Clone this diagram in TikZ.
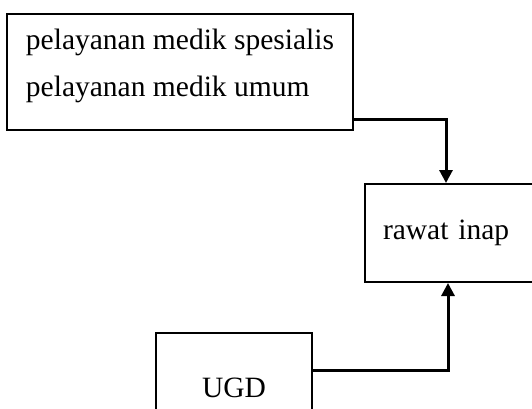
\documentclass[tikz,border=0pt]{standalone}
\usepackage{fontspec}
\setmainfont{Liberation Serif}
\usetikzlibrary{arrows.meta}

\begin{document}
\begin{tikzpicture}[x=1pt, y=1pt,
	box/.style={draw, line width=2pt, inner sep=0pt},
	flow/.style={line width=3pt, -{Triangle[length=13pt, width=13pt]}},
	every node/.style={font=\fontsize{29.5}{47}\selectfont}]
	\useasboundingbox (0,0) rectangle (532,408);
	
	% boxes
	\node[box, minimum width=344pt, minimum height=116pt, align=left,
	inner xsep=19pt, text depth=19pt] (medik) at (180,336)
	{pelayanan medik spesialis\\ pelayanan medik umum};
	\node[box, minimum width=175pt, minimum height=98pt, align=left,
	inner xsep=18pt, text width=139pt] (rawat) at (452.5,175) {rawat inap};
	\node[box, minimum width=156pt, minimum height=110pt] (ugd) at (234,20) {UGD};
	
	% connectors
	\draw[flow] ([yshift=12pt]medik.south east) -| ([xshift=-6.5pt]rawat.north);
	\draw[flow] ([yshift=18pt]ugd.east) -| ([xshift=-4.5pt]rawat.south);
	
\end{tikzpicture}
\end{document}
